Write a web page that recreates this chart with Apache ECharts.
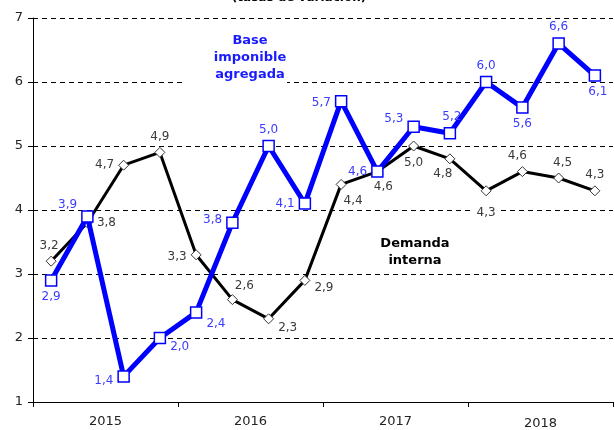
<!DOCTYPE html>
<html>
<head>
<meta charset="utf-8">
<script src="https://cdn.jsdelivr.net/npm/echarts@6/dist/echarts.min.js"></script>
<style>
  html, body { margin: 0; padding: 0; background: #fff; }
  #chart { width: 615px; height: 430px; }
</style>
</head>
<body>
<div id="chart"></div>
<script>
// trimestres 2015-2018
const quarters = ['2015T1','2015T2','2015T3','2015T4','2016T1','2016T2','2016T3','2016T4',
                  '2017T1','2017T2','2017T3','2017T4','2018T1','2018T2','2018T3','2018T4'];
const years = ['2015', '2016', '2017', '2018'];
const baseImponible = [2.9, 3.9, 1.4, 2.0, 2.4, 3.8, 5.0, 4.1, 5.7, 4.6, 5.3, 5.2, 6.0, 5.6, 6.6, 6.1];
const demandaInterna = [3.2, 3.8, 4.7, 4.9, 3.3, 2.6, 2.3, 2.9, 4.4, 4.6, 5.0, 4.8, 4.3, 4.6, 4.5, 4.3];

// posicion de cada etiqueta [position, offset]
const baseLabelPos = [
  ['bottom', [0, 0]], ['left', [0, -12]], ['left', [0, 4]], ['right', [0, 9]],
  ['right', [0, 11]], ['left', [0, -3]], ['top', [0, 0]], ['left', [0, 0]],
  ['left', [0, 2]], ['left', [0, 0]], ['left', [0, -8]], ['top', [2, 0]],
  ['top', [0, 0]], ['bottom', [0, 0]], ['top', [0, 0]], ['bottom', [3, 0]]
];
const demLabelPos = [
  ['top', [-2, 0]], ['right', [0, 0]], ['left', [0, 0]], ['top', [0, 0]],
  ['left', [0, 2]], ['top', [12, 2]], ['right', [0, 9]], ['right', [0, 7]],
  ['bottom', [12, 1]], ['bottom', [6, 0]], ['bottom', [0, 1]], ['bottom', [-7, 0]],
  ['bottom', [0, 7]], ['top', [-5, 0]], ['top', [4, 0]], ['top', [0, 0]]
];

const fmt = v => String(v.toFixed(1)).replace('.', ',');
const font = 'DejaVu Sans, Verdana, sans-serif';

function buildData(values, pos) {
  return values.map((v, i) => ({
    value: v,
    label: { position: pos[i][0], offset: pos[i][1] }
  }));
}

const myChart = echarts.init(document.getElementById('chart'));

const demData = buildData(demandaInterna, demLabelPos);
// la etiqueta 4,3 tapa la linea de rejilla
demData[12].label.backgroundColor = '#fff';
demData[12].label.padding = [0, 3];

const option = {
  animation: false,
  textStyle: { fontFamily: font },
  grid: { left: 33, right: 2, top: 18, bottom: 26 },
  xAxis: [
    {
      type: 'category', data: quarters, boundaryGap: true, show: false
    },
    {
      type: 'category', data: years, boundaryGap: true, position: 'bottom',
      axisLine: { lineStyle: { color: '#000', width: 1 } },
      axisTick: { show: true, length: 5, lineStyle: { color: '#000' } },
      axisLabel: {
        color: '#222', fontSize: 13, fontFamily: font, margin: 13,
        formatter: v => v === '2018' ? '{low|' + v + '}' : v,
        rich: { low: { fontSize: 13, fontFamily: font, color: '#222', padding: [2, 0, 0, 0] } }
      }
    }
  ],
  yAxis: {
    type: 'value', min: 1, max: 7, interval: 1,
    axisLine: { show: true, lineStyle: { color: '#000' } },
    axisTick: { show: true, length: 5, lineStyle: { color: '#000' } },
    axisLabel: { color: '#222', fontSize: 13, fontFamily: font, margin: 10 },
    splitLine: { lineStyle: { color: '#000', type: [5, 4], width: 1 } }
  },
  graphic: [
    {
      type: 'text',
      style: { text: '(tasas de variación)', font: 'bold 12px ' + font, fill: '#000',
               x: 299, y: 4, align: 'center', verticalAlign: 'bottom' }
    },
    {
      type: 'rect', z: 5,
      shape: { x: 182, y: 28, width: 105, height: 58 },
      style: { fill: '#fff' }
    },
    {
      type: 'text', z: 6,
      style: { text: 'Base\nimponible\nagregada', font: 'bold 13px ' + font, fill: '#1a1aff',
               x: 250, y: 32, align: 'center', lineHeight: 17 }
    },
    {
      type: 'text', z: 6,
      style: { text: 'Demanda\ninterna', font: 'bold 13px ' + font, fill: '#000',
               x: 415, y: 235, align: 'center', lineHeight: 17 }
    }
  ],
  series: [
    {
      name: 'Demanda interna',
      type: 'line',
      xAxisIndex: 0,
      data: demData,
      symbol: 'diamond', symbolSize: 10,
      lineStyle: { color: '#000', width: 3 },
      itemStyle: { color: '#fff', borderColor: '#333', borderWidth: 1 },
      label: { show: true, formatter: p => fmt(p.value), color: '#3a3a3a', fontSize: 12, fontFamily: font, distance: 4 },
      z: 2
    },
    {
      name: 'Base imponible agregada',
      type: 'line',
      xAxisIndex: 0,
      data: buildData(baseImponible, baseLabelPos),
      symbol: 'rect', symbolSize: 11,
      lineStyle: { color: '#0000ff', width: 5 },
      itemStyle: { color: '#fff', borderColor: '#0000ff', borderWidth: 1.5 },
      label: { show: true, formatter: p => fmt(p.value), color: '#3b3bff', fontSize: 12, fontFamily: font, distance: 4 },
      z: 3
    }
  ]
};

myChart.setOption(option);
</script>
</body>
</html>
